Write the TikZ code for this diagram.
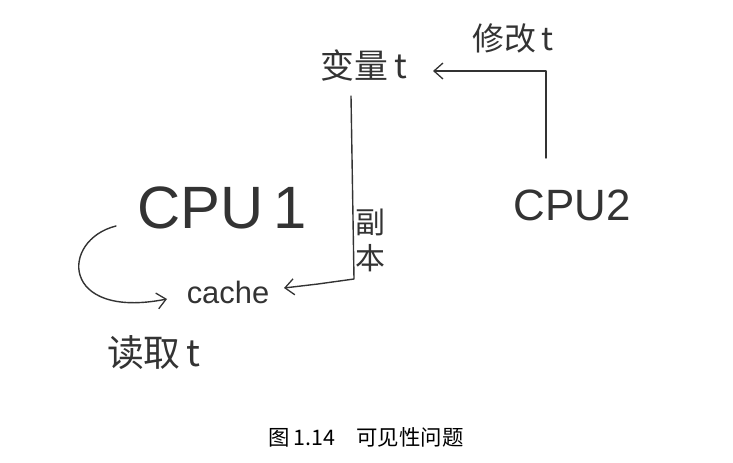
\documentclass[tikz,border=0pt]{standalone}
\usepackage{fontspec}
\setmainfont{Liberation Serif}
\newfontfamily\cjk{Noto Sans CJK SC}
\newfontfamily\hand{Liberation Sans}
\usetikzlibrary{arrows.meta}
\tikzset{
  pen/.style={line width=1.4pt, draw=black!80, line cap=round, line join=round},
  tip/.style={-{Straight Barb[length=9bp,width=16bp,line width=1.3pt]}},
  lbl/.style={inner sep=0pt, text=black!80},
}
\begin{document}
\begin{tikzpicture}[x=1bp,y=-1bp]
\useasboundingbox[fill=white] (0,0) rectangle (733,463);
% labels
\node[lbl, font=\cjk\fontsize{34}{36}\selectfont] (var) at (364,66) {变量\,t};
\node[lbl, font=\cjk\fontsize{32}{35}\selectfont] (mod) at (513,38) {修改\,t};
\node[lbl, font=\hand\fontsize{60}{62}\selectfont] (cpu1) at (222,208) {CPU\,1};
\node[lbl, font=\hand\fontsize{44}{46}\selectfont] (cpu2) at (572,205) {CPU2};
\node[lbl, font=\hand\fontsize{31}{33}\selectfont] (cache) at (228,292) {cache};
\node[lbl, font=\cjk\fontsize{37}{40}\selectfont] (read) at (154,353) {读取\,t};
\node[lbl, font=\cjk\fontsize{30}{36}\selectfont, align=center] (copy) at (370,240) {副\\本};
\node[lbl, font=\cjk\fontsize{21.5}{24}\selectfont, text=black] (cap) at (366,437) {图\,1.14\quad 可见性问题};
% connectors
\coordinate (c2top) at (546,158);
\coordinate (vartip) at (433,71);
\coordinate (vtop) at (351,96);
\coordinate (vbend) at (354,279);
\coordinate (cachetip) at (284,288);
\coordinate (loopstart) at (116,226);
\coordinate (looptip) at (167,299);
\draw[pen, tip] (c2top) |- (vartip);
\draw[pen, tip] (vtop) -- (vbend) -- (318,284) -- (cachetip);
\draw[pen, tip] (loopstart) .. controls (60,240) and (60,320) .. (looptip);
\end{tikzpicture}
\end{document}
